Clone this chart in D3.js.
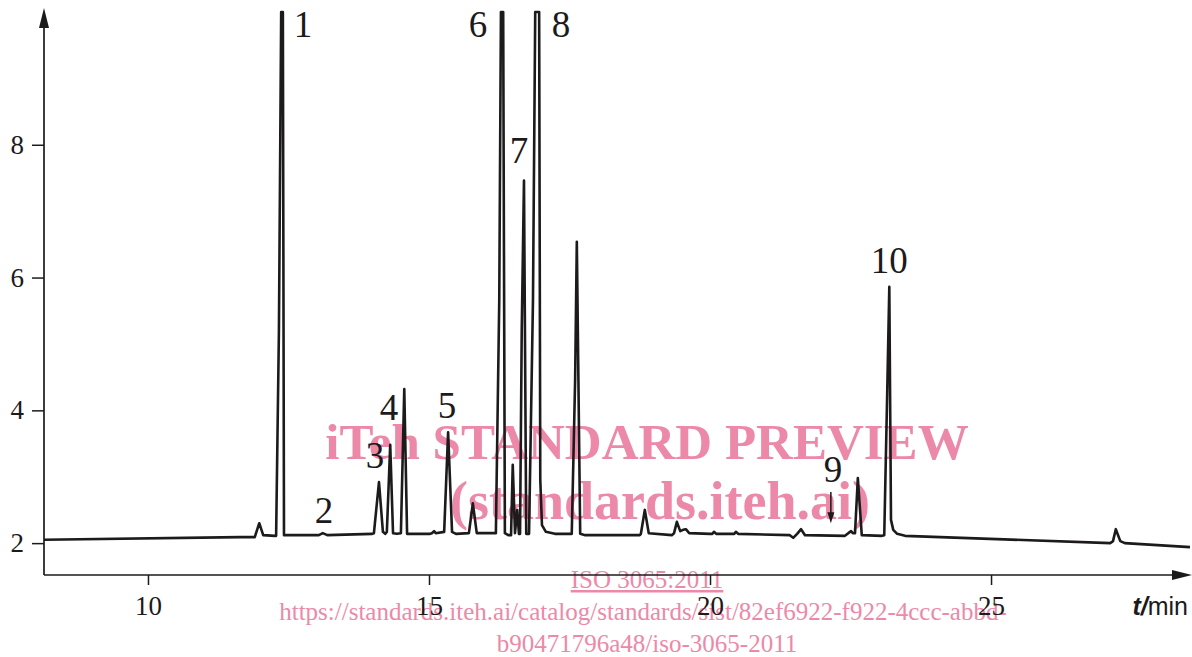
<!DOCTYPE html>
<html>
<head>
<meta charset="utf-8">
<script src="https://cdn.jsdelivr.net/npm/d3@7"></script>
<style>
  body { margin: 0; background: #fff; }
  svg { display: block; }
</style>
</head>
<body>
<div class="chromatogram"></div>
<script>
// retention time (min) and detector signal
const times = [
    8.15, 11.64, 11.90, 11.98, 12.05, 12.26, 12.28, 12.33, 12.37, 12.40, 12.42, 12.44,
    13.02, 13.04, 13.11, 13.19, 13.99, 14.02, 14.11, 14.18, 14.22, 14.25, 14.31, 14.36,
    14.43, 14.50, 14.56, 14.61, 15.02, 15.05, 15.09, 15.12, 15.27, 15.34, 15.41, 15.48,
    15.71, 15.78, 15.85, 16.14, 16.19, 16.25, 16.28, 16.32, 16.35, 16.41, 16.46, 16.49,
    16.53, 16.57, 16.60, 16.62, 16.65, 16.69, 16.73, 16.78, 16.85, 16.89, 16.96, 16.98,
    17.01, 17.08, 17.24, 17.54, 17.60, 17.63, 17.69, 17.78, 18.75, 18.77, 18.84, 18.91,
    19.32, 19.36, 19.41, 19.47, 19.52, 19.57, 19.63, 20.00, 20.04, 20.07, 20.11, 20.43,
    20.46, 20.50, 21.42, 21.48, 21.55, 21.62, 21.69, 22.40, 22.46, 22.51, 22.54, 22.58,
    22.63, 22.70, 23.06, 23.10, 23.15, 23.19, 23.22, 23.26, 23.33, 23.47, 27.12, 27.17,
    27.22, 27.30, 27.38, 28.54
];
const signal = [
    2.05, 2.09, 2.09, 2.30, 2.12, 2.11, 2.11, 5.21, 10.0, 10.0, 2.12, 2.12,
    2.12, 2.12, 2.15, 2.12, 2.14, 2.15, 2.92, 2.17, 2.14, 2.17, 3.48, 2.15,
    2.14, 2.15, 4.32, 2.14, 2.14, 2.15, 2.18, 2.15, 2.17, 3.67, 2.17, 2.14,
    2.15, 2.60, 2.15, 2.15, 2.15, 5.66, 10.0, 10.0, 2.15, 2.12, 2.12, 3.18,
    2.15, 2.50, 2.14, 2.14, 5.21, 7.46, 2.14, 2.14, 5.66, 10.0, 10.0, 2.95,
    2.27, 2.17, 2.14, 2.14, 4.46, 6.54, 2.14, 2.12, 2.12, 2.14, 2.50, 2.15,
    2.12, 2.15, 2.32, 2.18, 2.20, 2.21, 2.15, 2.14, 2.14, 2.17, 2.14, 2.14,
    2.17, 2.14, 2.12, 2.08, 2.14, 2.21, 2.12, 2.11, 2.15, 2.18, 2.15, 2.15,
    2.98, 2.12, 2.11, 2.12, 4.16, 5.86, 2.35, 2.20, 2.14, 2.11, 2.00, 2.03,
    2.21, 2.03, 2.00, 1.94
];

// peak numbers and where their labels sit
const peakNames = ["1", "2", "3", "4", "5", "6", "7", "8", "9", "10"];
const peakLabelT = [12.76, 13.13, 14.04, 14.29, 15.32, 15.87, 16.60, 17.35, 22.19, 23.19];
const peakLabelV = [9.63, 2.30, 3.13, 3.85, 3.89, 9.63, 7.73, 9.63, 2.92, 6.07];

// arrow pointing at peak 9
const arrowT = 22.15;
const arrowV = [2.77, 2.30];

const xTicks = [10, 15, 20, 25];
const yTicks = [2, 4, 6, 8];

const watermark = [
    "iTeh STANDARD PREVIEW",
    "(standards.iteh.ai)",
    "ISO 3065:2011",
    "https://standards.iteh.ai/catalog/standards/sist/82ef6922-f922-4ccc-abbd-",
    "b90471796a48/iso-3065-2011"
];

const width = 1192, height = 657;
const ink = "#1c1a1b";
const pink = "#ec89a9";
const serif = "'Liberation Serif', 'Times New Roman', serif";

var svg = d3.select(".chromatogram")
    .append("svg")
    .attr("width", width)
    .attr("height", height);

var xScale = d3.scaleLinear()
    .domain([8.15, 28.54])
    .range([44, 1190]);

var yScale = d3.scaleLinear()
    .domain([1.52, 10.06])
    .range([575, 8]);

// watermark sits under the trace
var wm = svg.append("g").attr("fill", pink).attr("font-family", serif).attr("text-anchor", "middle");
wm.append("text").attr("x", 647).attr("y", 459).attr("font-size", 51).attr("font-weight", "bold").text(watermark[0]);
wm.append("text").attr("x", 660).attr("y", 519).attr("font-size", 54).attr("font-weight", "bold").text(watermark[1]);
wm.append("text").attr("x", 647).attr("y", 588).attr("font-size", 25).attr("text-decoration", "underline").text(watermark[2]);
wm.append("text").attr("x", 643).attr("y", 620).attr("font-size", 25).text(watermark[3]);
wm.append("text").attr("x", 647).attr("y", 652).attr("font-size", 25).text(watermark[4]);

var xAxis = d3.axisBottom(xScale)
    .tickValues(xTicks)
    .tickSize(10)
    .tickPadding(11);

var yAxis = d3.axisLeft(yScale)
    .tickValues(yTicks)
    .tickSize(12)
    .tickPadding(8);

svg.append("g")
    .attr("class", "axis x-axis")
    .attr("transform", `translate(0, ${yScale.range()[0]})`)
    .attr("font-family", serif)
    .attr("font-size", 27)
    .call(xAxis)
    .call(g => g.select(".domain").remove())
    .call(g => g.selectAll(".tick line").attr("stroke", ink).attr("stroke-width", 1.5))
    .call(g => g.selectAll(".tick text").attr("fill", ink).attr("font-size", 27).attr("font-family", serif));

svg.append("g")
    .attr("class", "axis y-axis")
    .attr("transform", `translate(${xScale.range()[0]}, 0)`)
    .attr("font-family", serif)
    .attr("font-size", 27)
    .call(yAxis)
    .call(g => g.select(".domain").remove())
    .call(g => g.selectAll(".tick line").attr("stroke", ink).attr("stroke-width", 1.5))
    .call(g => g.selectAll(".tick text").attr("fill", ink).attr("font-size", 27).attr("font-family", serif));

// axis lines with arrow heads
var x0 = xScale.range()[0], x1 = xScale.range()[1];
var y0 = yScale.range()[0], y1 = yScale.range()[1];

svg.append("line")
    .attr("x1", x0).attr("y1", y0)
    .attr("x2", x1 - 10).attr("y2", y0)
    .attr("stroke", ink).attr("stroke-width", 1.7);
svg.append("path")
    .attr("d", `M${x1 + 2},${y0} L${x1 - 18},${y0 - 5} L${x1 - 18},${y0 + 5} Z`)
    .attr("fill", ink);

svg.append("line")
    .attr("x1", x0).attr("y1", y0)
    .attr("x2", x0).attr("y2", y1 + 10)
    .attr("stroke", ink).attr("stroke-width", 1.7);
svg.append("path")
    .attr("d", `M${x0},${y1} L${x0 - 5},${y1 + 20} L${x0 + 5},${y1 + 20} Z`)
    .attr("fill", ink);

svg.append("text")
    .attr("x", x1 - 2)
    .attr("y", 615)
    .attr("text-anchor", "end")
    .attr("font-family", "'Liberation Sans', Arial, sans-serif")
    .attr("font-size", 25)
    .attr("fill", ink)
    .call(t => t.append("tspan").attr("font-style", "italic").attr("font-weight", "bold").text("t/"))
    .call(t => t.append("tspan").text("min"));

// the trace
const points = times.map((t, i) => [t, signal[i]]);

const line = d3.line()
    .x(d => xScale(d[0]))
    .y(d => yScale(d[1]));

svg.append("path")
    .datum(points)
    .attr("fill", "none")
    .attr("stroke", ink)
    .attr("stroke-width", 2.6)
    .attr("stroke-linejoin", "round")
    .attr("d", line);

// peak numbers
svg.append("g")
    .selectAll("text")
    .data(peakNames)
    .join("text")
    .attr("x", (d, i) => xScale(peakLabelT[i]))
    .attr("y", (d, i) => yScale(peakLabelV[i]))
    .attr("text-anchor", "middle")
    .attr("font-family", serif)
    .attr("font-size", 37)
    .attr("fill", ink)
    .text(d => d);

// arrow to peak 9
var ax = xScale(arrowT), ayTop = yScale(arrowV[0]), ayTip = yScale(arrowV[1]);
svg.append("line")
    .attr("x1", ax).attr("y1", ayTop)
    .attr("x2", ax).attr("y2", ayTip - 8)
    .attr("stroke", ink).attr("stroke-width", 1.5);
svg.append("path")
    .attr("d", `M${ax},${ayTip} L${ax - 3.5},${ayTip - 11} L${ax + 3.5},${ayTip - 11} Z`)
    .attr("fill", ink);
</script>
</body>
</html>
